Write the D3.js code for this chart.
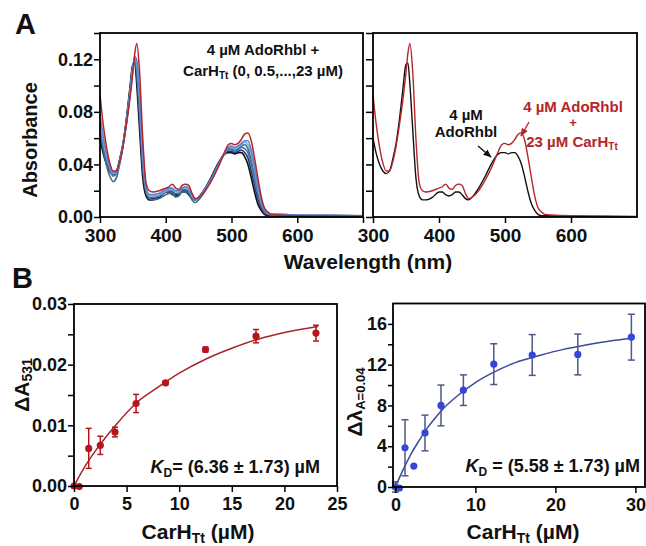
<!DOCTYPE html>
<html lang="en">
<head>
<meta charset="UTF-8"/>
<title>AdoRhbl / CarH titration</title>
<script src="https://cdn.jsdelivr.net/npm/d3@7"></script>
<style>
body { margin: 0; background: #fff; }
text { font-family: "Liberation Sans", Arial, sans-serif; font-weight: bold; fill: #111; }
.tick line { stroke: #000; stroke-width: 1.5px; }
</style>
</head>
<body>
<script>
// ---- panel A : spectra ----
var wavelengths = [300,305,310,315,320,325,330,335,340,345,350,353,356,360,365,370,375,380,390,400,
  405,410,415,420,425,430,435,440,445,450,460,470,480,490,495,500,505,510,515,520,
  525,530,535,540,545,550,555,560,570,600,650,700];

// 4 uM AdoRhbl alone (black)
var absFree = [0.060,0.048,0.040,0.035,0.033,0.035,0.044,0.056,0.074,0.096,0.116,0.117,0.100,0.068,0.030,0.016,0.013,0.013,0.015,0.019,
  0.019,0.017,0.016,0.017,0.019,0.019,0.017,0.014,0.013,0.015,0.022,0.031,0.041,0.048,0.049,0.049,0.048,0.049,0.049,0.046,
  0.040,0.030,0.019,0.010,0.005,0.002,0.001,0.001,0.001,0.0005,0.0003,0.0003];

// + 23 uM CarH (red)
var absBound = [0.093,0.070,0.053,0.041,0.035,0.035,0.042,0.054,0.070,0.088,0.110,0.125,0.132,0.112,0.060,0.026,0.020,0.019,0.020,0.022,
  0.023,0.025,0.022,0.021,0.024,0.025,0.024,0.018,0.014,0.015,0.020,0.028,0.038,0.050,0.055,0.056,0.055,0.056,0.059,0.063,
  0.064,0.058,0.045,0.030,0.016,0.007,0.004,0.002,0.0015,0.001,0.0008,0.0005];

// intermediate titration points (blue bundle)
var absTitration = [
  [0.064,0.050,0.041,0.035,0.032,0.034,0.043,0.055,0.073,0.094,0.115,0.119,0.106,0.076,0.036,0.018,0.014,0.014,0.016,0.019,
   0.020,0.019,0.017,0.018,0.020,0.020,0.019,0.015,0.013,0.015,0.022,0.031,0.041,0.048,0.050,0.050,0.049,0.050,0.051,0.049,
   0.045,0.035,0.024,0.014,0.007,0.003,0.002,0.0015,0.0015,0.001,0.001,0.0008],
  [0.068,0.053,0.043,0.036,0.031,0.033,0.042,0.055,0.072,0.093,0.114,0.120,0.110,0.082,0.040,0.020,0.015,0.015,0.016,0.019,
   0.020,0.020,0.018,0.018,0.021,0.021,0.020,0.015,0.013,0.015,0.022,0.030,0.040,0.049,0.051,0.051,0.050,0.051,0.053,0.052,
   0.049,0.040,0.029,0.018,0.009,0.004,0.002,0.002,0.0015,0.0012,0.001,0.0008],
  [0.070,0.052,0.039,0.031,0.027,0.030,0.040,0.054,0.071,0.092,0.114,0.121,0.113,0.086,0.044,0.020,0.014,0.013,0.014,0.017,
   0.018,0.018,0.015,0.016,0.019,0.019,0.018,0.013,0.011,0.013,0.020,0.029,0.040,0.049,0.052,0.052,0.051,0.052,0.054,0.055,
   0.052,0.044,0.033,0.021,0.011,0.005,0.003,0.002,0.002,0.0015,0.0012,0.001],
  [0.074,0.058,0.046,0.038,0.033,0.034,0.042,0.055,0.071,0.091,0.113,0.121,0.116,0.092,0.048,0.022,0.016,0.016,0.017,0.020,
   0.021,0.021,0.019,0.019,0.022,0.022,0.021,0.016,0.013,0.015,0.021,0.029,0.039,0.049,0.053,0.053,0.052,0.053,0.055,0.057,
   0.055,0.048,0.036,0.023,0.012,0.006,0.003,0.002,0.002,0.0015,0.0012,0.001],
  [0.078,0.061,0.048,0.039,0.034,0.034,0.042,0.054,0.070,0.090,0.112,0.122,0.119,0.096,0.052,0.023,0.017,0.017,0.018,0.021,
   0.022,0.022,0.020,0.020,0.022,0.023,0.022,0.017,0.013,0.015,0.021,0.029,0.039,0.049,0.053,0.054,0.053,0.054,0.056,0.058,
   0.058,0.051,0.039,0.025,0.013,0.006,0.003,0.002,0.002,0.0015,0.0012,0.001]
];

var aXTicks = [300, 400, 500, 600, 700];
var aXLabels = [300, 400, 500, 600];
var aYTicks = [0, 0.04, 0.08, 0.12];
var aYMinor = [0.02, 0.06, 0.10, 0.14];

// ---- panel B left : delta A531 ----
var carhA = [0, 0.5, 1.4, 2.5, 3.9, 5.9, 8.7, 12.5, 17.3, 23.0];
var dA531 = [0, -0.0001, 0.0062, 0.0067, 0.0089, 0.0136, 0.0170, 0.0225, 0.0247, 0.0252];
var dA531Err = [0, 0, 0.0033, 0.0015, 0.0008, 0.0015, 0.0003, 0.0004, 0.0011, 0.0013];
var fitAx = [0, 1, 2, 3, 4, 6, 8, 10, 12.5, 15, 17.5, 20, 23.2];
var fitAy = [0, 0.0031, 0.0057, 0.0080, 0.0101, 0.0138, 0.0163, 0.0186, 0.0209, 0.0227, 0.0242, 0.0253, 0.0263];
var bLXTicks = [0, 5, 10, 15, 20, 25];
var bLYTicks = [0, 0.01, 0.02, 0.03];
var bLYMinor = [0.005, 0.015, 0.025];

// ---- panel B right : delta lambda at A = 0.04 ----
var carhL = [0, 0.5, 1.2, 2.3, 3.7, 5.7, 8.5, 12.3, 17.1, 22.8, 29.5];
var dLambda = [0, -0.1, 3.85, 2.05, 5.3, 8.0, 9.5, 12.05, 12.95, 13.0, 14.7];
var dLambdaErr = [0.5, 0, 2.75, 0, 1.75, 2.0, 1.5, 2.0, 2.0, 2.0, 2.25];
var fitLx = [0, 1, 2, 3, 4, 5, 6, 8, 10, 12, 15, 18, 21, 24, 27, 29.5];
var fitLy = [0, 1.75, 3.3, 4.6, 5.8, 6.8, 7.7, 9.1, 10.25, 11.15, 12.2, 12.9, 13.5, 13.95, 14.35, 14.6];
var bRXTicks = [0, 10, 20, 30];
var bRYTicks = [0, 4, 8, 12, 16];
var bRYMinor = [2, 6, 10, 14];

var W = 646, H = 546;
var svg = d3.select("body").append("svg").attr("width", W).attr("height", H);

var defs = svg.append("defs");
[["arrBlack", "#111"], ["arrRed", "#b3262a"]].forEach(function(m) {
  defs.append("marker").attr("id", m[0]).attr("viewBox", "0 -5 10 10")
    .attr("refX", 9).attr("refY", 0).attr("markerWidth", 6).attr("markerHeight", 6)
    .attr("orient", "auto").append("path").attr("d", "M0,-4L10,0L0,4").attr("fill", m[1]);
});

function frame(x, y) {
  svg.append("rect")
    .attr("x", x.range()[0]).attr("y", y.range()[1])
    .attr("width", x.range()[1] - x.range()[0]).attr("height", y.range()[0] - y.range()[1])
    .attr("fill", "none").attr("stroke", "#000").attr("stroke-width", 1.8);
}

// generic axis drawing; labels bold
function axis(gen, pos, ticks, fmt, size, pad, fs) {
  var g = svg.append("g").attr("transform", pos)
    .call(gen.tickValues(ticks).tickSize(size).tickPadding(pad).tickFormat(fmt));
  g.select(".domain").remove();
  g.attr("font-family", null).attr("font-size", null);
  g.selectAll("text").style("font-size", fs + "px").attr("fill", "#111");
  return g;
}

function subText(x, y, parts, opts) {
  var col = opts.color || "#111";
  var t = svg.append("text").attr("x", x).attr("y", y)
    .attr("text-anchor", opts.anchor || "middle")
    .style("font-size", opts.fs + "px").style("fill", col);
  if (opts.rotate) t.attr("transform", "rotate(-90," + x + "," + y + ")");
  parts.forEach(function(p) {
    var s = t.append("tspan").text(p.t).style("fill", col);
    if (p.sub) s.style("font-size", p.sub + "px").attr("dy", p.dy);
    if (p.up) s.attr("dy", p.up);
    if (p.italic) s.style("font-style", "italic");
  });
  return t;
}

// ================= PANEL A =================
var yA = d3.scaleLinear().domain([0, 0.14]).range([217, 33]);
var xAL = d3.scaleLinear().domain([300, 700]).range([100, 363]);
var xAR = d3.scaleLinear().domain([300, 700]).range([373, 637]);

var blueCols = ["#24386e", "#4c72b8", "#3b6f84", "#86a8df", "#5a84cc"];

function spectrum(x, vals, col, w) {
  var line = d3.line()
    .x(function(d, i) { return x(wavelengths[i]); })
    .y(function(d) { return yA(d); })
    .curve(d3.curveMonotoneX);
  svg.append("path").datum(vals).attr("d", line)
    .attr("fill", "none").attr("stroke", col).attr("stroke-width", w);
}

spectrum(xAL, absFree, "#111", 1.6);
absTitration.forEach(function(s, i) { spectrum(xAL, s, blueCols[i], 1.6); });
spectrum(xAL, absBound, "#b3262a", 1.5);

spectrum(xAR, absFree, "#111", 1.4);
spectrum(xAR, absBound, "#b3262a", 1.4);

frame(xAL, yA);
frame(xAR, yA);

axis(d3.axisLeft(yA), "translate(100,0)", aYTicks, function(d) { return d.toFixed(2); }, 6, 1, 18);
axis(d3.axisLeft(yA), "translate(100,0)", aYMinor, "", 6, 1, 18);
axis(d3.axisLeft(yA), "translate(373,0)", aYTicks.concat(aYMinor), "", 7, 1, 18);
axis(d3.axisBottom(xAL), "translate(0,217)", aXTicks,
  function(d) { return aXLabels.indexOf(d) >= 0 ? d : ""; }, 6, 6, 19);
axis(d3.axisBottom(xAR), "translate(0,217)", aXLabels, d3.format("d"), 6, 6, 19);

svg.append("text").attr("x", 15).attr("y", 34).style("font-size", "29px").text("A");

subText(37, 140, [{t: "Absorbance"}], {fs: 20, rotate: true});
subText(368, 269, [{t: "Wavelength (nm)"}], {fs: 21});

subText(263, 55, [{t: "4 \u00b5M AdoRhbl +"}], {fs: 15});
subText(263, 76, [{t: "CarH"}, {t: "Tt", sub: 10, dy: 3}, {t: " (0, 0.5,...,23 \u00b5M)", up: -3}], {fs: 15});

subText(466, 120, [{t: "4 \u00b5M"}], {fs: 15});
subText(466, 137, [{t: "AdoRhbl"}], {fs: 15});
subText(573, 112, [{t: "4 \u00b5M AdoRhbl"}], {fs: 15, color: "#b3262a"});
subText(573, 127, [{t: "+"}], {fs: 13, color: "#b3262a"});
subText(572, 147, [{t: "23 \u00b5M CarH"}, {t: "Tt", sub: 10, dy: 3}], {fs: 15, color: "#b3262a"});

svg.append("line").attr("x1", 478).attr("y1", 146).attr("x2", 491).attr("y2", 157)
  .attr("stroke", "#111").attr("stroke-width", 1.4).attr("marker-end", "url(#arrBlack)");
svg.append("line").attr("x1", 529).attr("y1", 122).attr("x2", 521).attr("y2", 136)
  .attr("stroke", "#b3262a").attr("stroke-width", 1.4).attr("marker-end", "url(#arrRed)");

// ================= PANEL B =================
svg.append("text").attr("x", 12).attr("y", 288).style("font-size", "29px").text("B");

function binding(x, y, xs, ys, errs, fx, fy, curveCol, ptCol, barCol, cap) {
  var line = d3.line()
    .x(function(d, i) { return x(fx[i]); })
    .y(function(d) { return y(d); })
    .curve(d3.curveMonotoneX);
  svg.append("path").datum(fy).attr("d", line)
    .attr("fill", "none").attr("stroke", curveCol).attr("stroke-width", 1.5);

  var g = svg.append("g");
  xs.forEach(function(c, i) {
    if (errs[i] <= 0) return;
    var px = x(c), y0 = y(ys[i] - errs[i]), y1 = y(ys[i] + errs[i]);
    g.append("line").attr("x1", px).attr("x2", px).attr("y1", y0).attr("y2", y1)
      .attr("stroke", barCol).attr("stroke-width", 1.5);
    [y0, y1].forEach(function(yy) {
      g.append("line").attr("x1", px - cap).attr("x2", px + cap).attr("y1", yy).attr("y2", yy)
        .attr("stroke", barCol).attr("stroke-width", 1.5);
    });
  });
  g.selectAll("circle").data(xs).enter().append("circle")
    .attr("cx", function(d) { return x(d); })
    .attr("cy", function(d, i) { return y(ys[i]); })
    .attr("r", 3.6).attr("fill", ptCol);
}

// left
var xBL = d3.scaleLinear().domain([0, 25]).range([74, 337]);
var yBL = d3.scaleLinear().domain([0, 0.03]).range([486, 304]);
binding(xBL, yBL, carhA, dA531, dA531Err, fitAx, fitAy, "#a3262b", "#b5161d", "#b5161d", 3);
frame(xBL, yBL);
axis(d3.axisLeft(yBL), "translate(74,0)", bLYTicks, function(d) { return d.toFixed(2); }, 6, 1, 18);
axis(d3.axisLeft(yBL), "translate(74,0)", bLYMinor, "", 6, 1, 18);
axis(d3.axisBottom(xBL), "translate(0,486)", bLXTicks, d3.format("d"), 6, 5, 18);

subText(29, 385, [{t: "\u0394A"}, {t: "531", sub: 14, dy: 3}], {fs: 21, rotate: true});
subText(198, 539, [{t: "CarH"}, {t: "Tt", sub: 14, dy: 4}, {t: " (\u00b5M)", up: -4}], {fs: 21});
subText(320, 473, [{t: "K", italic: true}, {t: "D", sub: 12, dy: 4}, {t: "= (6.36 \u00b1 1.73) \u00b5M", up: -4}], {fs: 18, anchor: "end"});

// right
var xBR = d3.scaleLinear().domain([-0.3, 31.2]).range([393, 645]);
var yBR = d3.scaleLinear().domain([0, 18]).range([487, 303.5]);
binding(xBR, yBR, carhL, dLambda, dLambdaErr, fitLx, fitLy, "#3b4b9a", "#3446d6", "#4b5985", 3.5);
frame(xBR, yBR);
axis(d3.axisLeft(yBR), "translate(393,0)", bRYTicks, d3.format("d"), 5, 1, 18);
axis(d3.axisLeft(yBR), "translate(393,0)", bRYMinor, "", 5, 1, 18);
axis(d3.axisBottom(xBR), "translate(0,487)", bRXTicks, d3.format("d"), 6, 5, 18);

subText(362, 402, [{t: "\u0394\u03bb"}, {t: "A=0.04", sub: 13, dy: 3}], {fs: 21, rotate: true});
subText(523, 539, [{t: "CarH"}, {t: "Tt", sub: 14, dy: 4}, {t: " (\u00b5M)", up: -4}], {fs: 21});
subText(640, 472, [{t: "K", italic: true}, {t: "D", sub: 12, dy: 4}, {t: " = (5.58 \u00b1 1.73) \u00b5M", up: -4}], {fs: 18, anchor: "end"});
</script>
</body>
</html>
